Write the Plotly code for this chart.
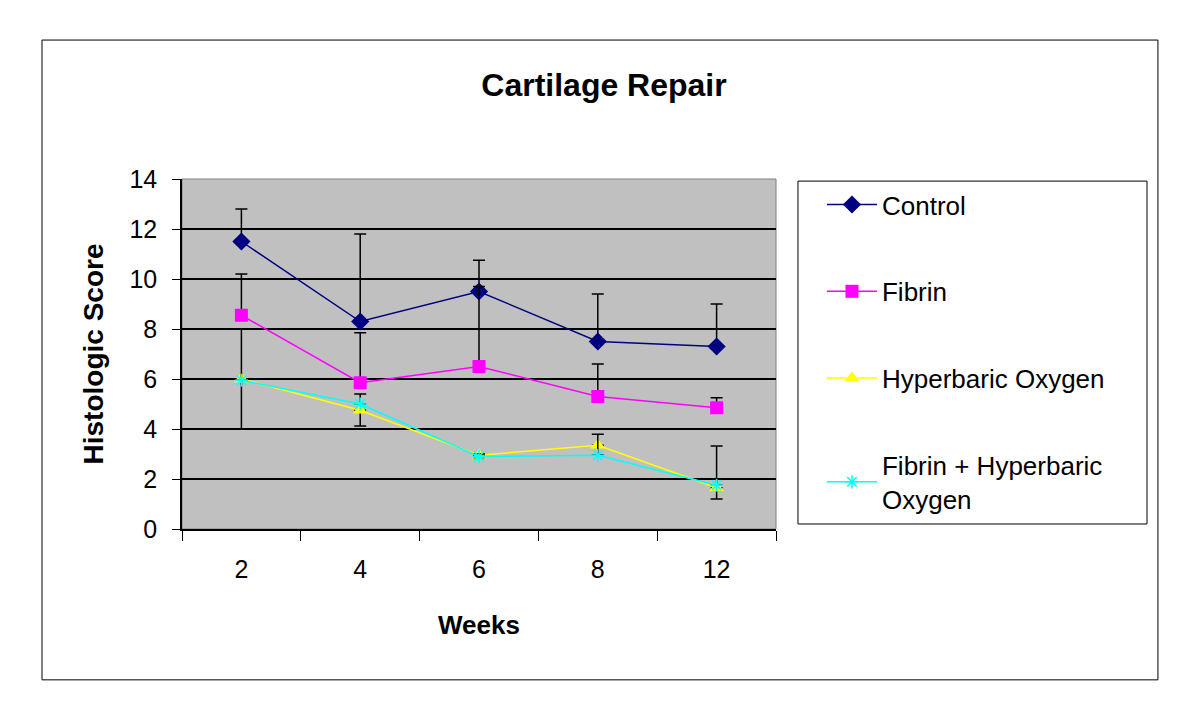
import plotly.graph_objects as go

weeks = ["2", "4", "6", "8", "12"]

control = [11.5, 8.3, 9.5, 7.5, 7.3]
control_err = [1.3, 3.5, 1.25, 1.9, 1.7]

fibrin = [8.55, 5.85, 6.5, 5.3, 4.85]
fibrin_err = [1.65, 2.0, 3.2, 1.3, 0.4]

hbo = [6.0, 4.75, 2.95, 3.35, 1.65]
hbo_err_minus = [2.0, 0.63, 0.1, 0.39, 0.45]

fibrin_hbo = [5.95, 5.0, 2.9, 2.95, 1.75]
fibrin_hbo_err = [2.05, 0.4, 0.1, 0.84, 1.57]

font_main = "Liberation Sans, Arial, sans-serif"
zeros = [0] * len(weeks)

fig = go.Figure()

fig.add_trace(go.Scatter(
    x=weeks, y=control, mode="lines+markers", name="Control",
    line=dict(color="#000080", width=1.5),
    marker=dict(symbol="diamond", size=14, color="#000080"),
    error_y=dict(type="data", array=control_err, arrayminus=zeros, symmetric=False,
                 color="black", thickness=1.5, width=6),
    legendgroup="a"
))

fig.add_trace(go.Scatter(
    x=weeks, y=fibrin, mode="lines+markers", name="Fibrin",
    line=dict(color="#FF00FF", width=1.5),
    marker=dict(symbol="square", size=13, color="#FF00FF"),
    error_y=dict(type="data", array=fibrin_err, arrayminus=zeros, symmetric=False,
                 color="black", thickness=1.5, width=6),
    legendgroup="b"
))

fig.add_trace(go.Scatter(
    x=weeks, y=hbo, mode="lines+markers", name="Hyperbaric Oxygen",
    line=dict(color="#FFFF00", width=1.5),
    marker=dict(symbol="triangle-up", size=13, color="#FFFF00"),
    error_y=dict(type="data", array=zeros, arrayminus=hbo_err_minus, symmetric=False,
                 color="black", thickness=1.5, width=6),
    legendgroup="c"
))

fig.add_trace(go.Scatter(
    x=weeks, y=fibrin_hbo, mode="lines+markers", name="Fibrin + Hyperbaric<br>Oxygen",
    line=dict(color="#00FFFF", width=1.5),
    marker=dict(symbol="asterisk-open", size=11, color="#00FFFF",
                line=dict(color="#00FFFF", width=1.5)),
    error_y=dict(type="data", array=fibrin_hbo_err, arrayminus=zeros, symmetric=False,
                 color="black", thickness=1.5, width=6),
    legendgroup="d"
))

# gray frame round the plot area, legend box and outer chart border
fig.add_shape(type="rect", xref="paper", yref="paper", x0=0, x1=1, y0=0, y1=1,
              line=dict(color="#808080", width=1), layer="below")
fig.add_shape(type="rect", xref="paper", yref="paper",
              x0=1.037, x1=1.6246, y0=0.0143, y1=0.994,
              line=dict(color="black", width=1))
fig.add_shape(type="rect", xref="paper", yref="paper",
              x0=-0.2357, x1=1.643, y0=-0.431, y1=1.397,
              line=dict(color="black", width=1))

# the page body adds an 8px margin, so the figure is 8px smaller
fig.update_layout(
    title=dict(text="<b>Cartilage Repair</b>", x=0.5, xanchor="center",
               y=1 - 77/712, yanchor="middle", yref="container",
               font=dict(family=font_main, size=32, color="black")),
    width=1192,
    height=712,
    margin=dict(l=174, r=424, t=171, b=191),
    plot_bgcolor="#C0C0C0",
    paper_bgcolor="white",
    font=dict(family=font_main, size=25, color="black"),
    legend=dict(
        x=1.0774, y=0.994, xanchor="left", yanchor="top",
        borderwidth=0, bgcolor="rgba(0,0,0,0)",
        font=dict(family=font_main, size=26, color="black"),
        tracegroupgap=50, itemwidth=50, maxheight=400,
    ),
    xaxis=dict(
        type="category", range=[-0.5, 4.5],
        title=dict(text="<b>Weeks</b>", font=dict(size=26), standoff=34),
        showgrid=False, showline=True, linecolor="black", linewidth=1.5,
        ticks="outside", tickson="boundaries", ticklen=10, tickcolor="black",
        ticklabelstandoff=17,
    ),
    yaxis=dict(
        range=[0, 14], dtick=2,
        title=dict(text="<b>Histologic Score</b>", font=dict(size=28), standoff=18),
        showgrid=True, gridcolor="black", gridwidth=1.5,
        zeroline=False, showline=True, linecolor="black", linewidth=1.5,
        ticks="outside", ticklen=8, tickcolor="black",
        ticklabelstandoff=10,
    ),
)

fig.write_html("out.html")
